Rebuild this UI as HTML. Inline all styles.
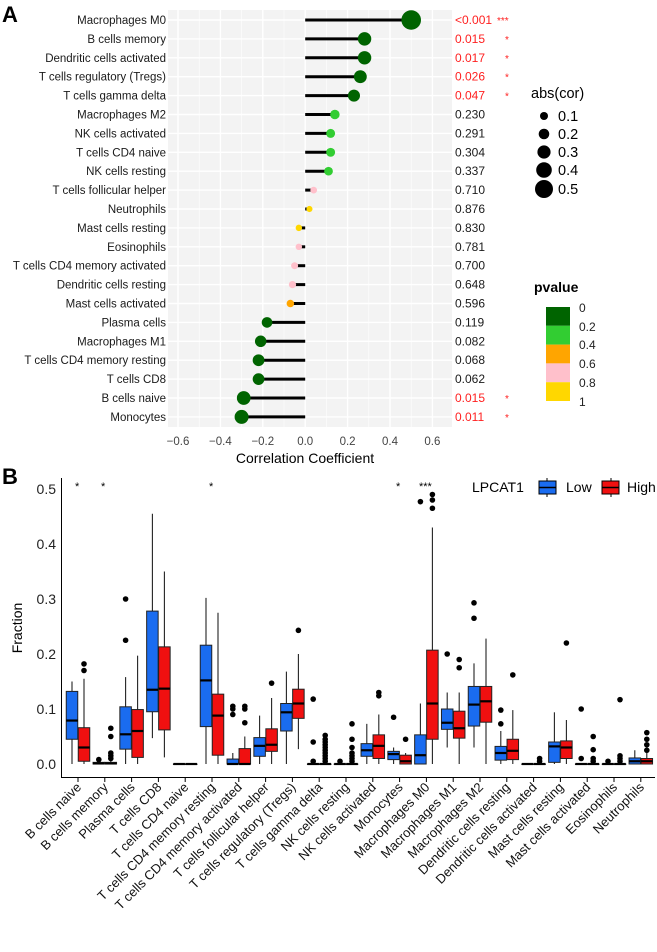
<!DOCTYPE html>
<html><head><meta charset="utf-8"><style>
body{margin:0;background:#fff;}
svg{display:block;font-family:"Liberation Sans",Arial,sans-serif;}
</style></head><body>
<svg id="s" width="657" height="952" viewBox="0 0 657 952" xmlns="http://www.w3.org/2000/svg">
<rect width="657" height="952" fill="#fff"/>
<text x="2" y="22" font-size="22" font-weight="bold">A</text>
<rect x="168" y="10" width="284" height="417" fill="#ebebeb" opacity="0.6"/>
<g id="gridA"></g>
<g id="lolli"></g>
<g font-size="11.5" text-anchor="end" fill="#1a1a1a">
<text x="166" y="24">Macrophages M0</text>
<text x="166" y="42.9">B cells memory</text>
<text x="166" y="61.8">Dendritic cells activated</text>
<text x="166" y="80.7">T cells regulatory (Tregs)</text>
<text x="166" y="99.6">T cells gamma delta</text>
<text x="166" y="118.5">Macrophages M2</text>
<text x="166" y="137.4">NK cells activated</text>
<text x="166" y="156.3">T cells CD4 naive</text>
<text x="166" y="175.2">NK cells resting</text>
<text x="166" y="194.1">T cells follicular helper</text>
<text x="166" y="213">Neutrophils</text>
<text x="166" y="231.9">Mast cells resting</text>
<text x="166" y="250.8">Eosinophils</text>
<text x="166" y="269.7">T cells CD4 memory activated</text>
<text x="166" y="288.6">Dendritic cells resting</text>
<text x="166" y="307.5">Mast cells activated</text>
<text x="166" y="326.4">Plasma cells</text>
<text x="166" y="345.3">Macrophages M1</text>
<text x="166" y="364.2">T cells CD4 memory resting</text>
<text x="166" y="383.1">T cells CD8</text>
<text x="166" y="402">B cells naive</text>
<text x="166" y="420.9">Monocytes</text>
</g>
<g font-size="12" fill="#1a1a1a">
<text x="455" y="24" fill="#ff2020">&lt;0.001</text><text x="497" y="24" fill="#ff2020" font-size="10">***</text>
<text x="455" y="42.9" fill="#ff2020">0.015</text><text x="505" y="42.9" fill="#ff2020" font-size="10">*</text>
<text x="455" y="61.8" fill="#ff2020">0.017</text><text x="505" y="61.8" fill="#ff2020" font-size="10">*</text>
<text x="455" y="80.7" fill="#ff2020">0.026</text><text x="505" y="80.7" fill="#ff2020" font-size="10">*</text>
<text x="455" y="99.6" fill="#ff2020">0.047</text><text x="505" y="99.6" fill="#ff2020" font-size="10">*</text>
<text x="455" y="118.5">0.230</text>
<text x="455" y="137.4">0.291</text>
<text x="455" y="156.3">0.304</text>
<text x="455" y="175.2">0.337</text>
<text x="455" y="194.1">0.710</text>
<text x="455" y="213">0.876</text>
<text x="455" y="231.9">0.830</text>
<text x="455" y="250.8">0.781</text>
<text x="455" y="269.7">0.700</text>
<text x="455" y="288.6">0.648</text>
<text x="455" y="307.5">0.596</text>
<text x="455" y="326.4">0.119</text>
<text x="455" y="345.3">0.082</text>
<text x="455" y="364.2">0.068</text>
<text x="455" y="383.1">0.062</text>
<text x="455" y="402" fill="#ff2020">0.015</text><text x="505" y="402" fill="#ff2020" font-size="10">*</text>
<text x="455" y="420.9" fill="#ff2020">0.011</text><text x="505" y="420.9" fill="#ff2020" font-size="10">*</text>
</g>
<g font-size="11.5" fill="#444" text-anchor="middle">
<text x="178" y="445">−0.6</text><text x="220.4" y="445">−0.4</text><text x="262.8" y="445">−0.2</text>
<text x="305.2" y="445">0.0</text><text x="347.6" y="445">0.2</text><text x="390" y="445">0.4</text><text x="432.4" y="445">0.6</text>
</g>
<text x="305" y="463" font-size="14" text-anchor="middle">Correlation Coefficient</text>
<text x="531" y="98" font-size="14.5">abs(cor)</text>
<g fill="#000"><circle cx="544" cy="116" r="4"/><circle cx="544" cy="134" r="5.3"/><circle cx="544" cy="152" r="6.6"/><circle cx="544" cy="170" r="7.8"/><circle cx="544" cy="189" r="9"/></g>
<g font-size="14.5"><text x="558" y="121">0.1</text><text x="558" y="139">0.2</text><text x="558" y="157">0.3</text><text x="558" y="175">0.4</text><text x="558" y="194">0.5</text></g>
<text x="534" y="292" font-size="14" font-weight="bold">pvalue</text>
<rect x="546" y="307" width="24" height="18.8" fill="#006400"/>
<rect x="546" y="325.8" width="24" height="18.8" fill="#32cd32"/>
<rect x="546" y="344.6" width="24" height="18.8" fill="#ffa500"/>
<rect x="546" y="363.4" width="24" height="18.8" fill="#ffc0cb"/>
<rect x="546" y="382.2" width="24" height="18.8" fill="#ffd700"/>
<g font-size="12" fill="#222"><text x="579" y="312">0</text><text x="579" y="331">0.2</text><text x="579" y="349">0.4</text><text x="579" y="368">0.6</text><text x="579" y="387">0.8</text><text x="579" y="406">1</text></g>

<text x="2" y="484" font-size="22" font-weight="bold">B</text>
<g font-size="14" fill="#222" text-anchor="end">
<text x="56" y="494">0.5</text><text x="56" y="549">0.4</text><text x="56" y="604">0.3</text><text x="56" y="659">0.2</text><text x="56" y="714">0.1</text><text x="56" y="769">0.0</text>
</g>
<text transform="translate(22,628) rotate(-90)" font-size="14" text-anchor="middle">Fraction</text>
<line x1="61.5" y1="478" x2="61.5" y2="777" stroke="#000" stroke-width="1"/>
<line x1="61" y1="777.5" x2="655" y2="777.5" stroke="#000" stroke-width="1"/>
<g id="ticksB"></g>
<g id="boxes"></g>
<g font-size="11" fill="#000"><text x="75" y="490">*</text><text x="101" y="490">*</text><text x="209" y="490">*</text><text x="396" y="490">*</text><text x="419" y="490">***</text></g>
<text x="472" y="492" font-size="14">LPCAT1</text>
<line x1="547" y1="478" x2="547" y2="497" stroke="#000"/><rect x="539" y="481" width="17" height="13" fill="#1a6cf0" stroke="#000"/><line x1="539" y1="487.5" x2="556" y2="487.5" stroke="#000" stroke-width="1.5"/>
<text x="566" y="492" font-size="14">Low</text>
<line x1="611" y1="478" x2="611" y2="497" stroke="#000"/><rect x="602" y="481" width="17" height="13" fill="#f01010" stroke="#000"/><line x1="602" y1="487.5" x2="619" y2="487.5" stroke="#000" stroke-width="1.5"/>
<text x="627" y="492" font-size="14">High</text>
<g font-size="13" fill="#111" text-anchor="end">
<text transform="translate(82,788) rotate(-45)">B cells naive</text>
<text transform="translate(108.8,788) rotate(-45)">B cells memory</text>
<text transform="translate(135.6,788) rotate(-45)">Plasma cells</text>
<text transform="translate(162.4,788) rotate(-45)">T cells CD8</text>
<text transform="translate(189.2,788) rotate(-45)">T cells CD4 naive</text>
<text transform="translate(216,788) rotate(-45)">T cells CD4 memory resting</text>
<text transform="translate(242.8,788) rotate(-45)">T cells CD4 memory activated</text>
<text transform="translate(269.6,788) rotate(-45)">T cells follicular helper</text>
<text transform="translate(296.4,788) rotate(-45)">T cells regulatory (Tregs)</text>
<text transform="translate(323.2,788) rotate(-45)">T cells gamma delta</text>
<text transform="translate(350,788) rotate(-45)">NK cells resting</text>
<text transform="translate(376.8,788) rotate(-45)">NK cells activated</text>
<text transform="translate(403.6,788) rotate(-45)">Monocytes</text>
<text transform="translate(430.4,788) rotate(-45)">Macrophages M0</text>
<text transform="translate(457.2,788) rotate(-45)">Macrophages M1</text>
<text transform="translate(484,788) rotate(-45)">Macrophages M2</text>
<text transform="translate(510.8,788) rotate(-45)">Dendritic cells resting</text>
<text transform="translate(537.6,788) rotate(-45)">Dendritic cells activated</text>
<text transform="translate(564.4,788) rotate(-45)">Mast cells resting</text>
<text transform="translate(591.2,788) rotate(-45)">Mast cells activated</text>
<text transform="translate(618,788) rotate(-45)">Eosinophils</text>
<text transform="translate(644.8,788) rotate(-45)">Neutrophils</text>
</g>
</svg>
<script>
var NS="http://www.w3.org/2000/svg";
function el(p,t,a){var e=document.createElementNS(NS,t);for(var k in a)e.setAttribute(k,a[k]);document.getElementById(p).appendChild(e);return e;}
var Z=305.2,U=212,S=18.9,R0=20;
for(var n=-6;n<=6;n++){var x=Z+n*0.1*U;var major=Math.abs(n)%2==0;el("gridA","line",{x1:x,x2:x,y1:10,y2:427,stroke:"#fff","stroke-width":major?1.4:0.6});}
for(var i=0;i<22;i++){var y=R0+i*S;el("gridA","line",{x1:168,x2:452,y1:y,y2:y,stroke:"#fff","stroke-width":1.4});}
var cor=[0.5,0.28,0.28,0.26,0.23,0.14,0.12,0.12,0.11,0.04,0.02,-0.03,-0.03,-0.05,-0.06,-0.07,-0.18,-0.21,-0.22,-0.22,-0.29,-0.30];
var col=["#006400","#006400","#006400","#006400","#006400","#32cd32","#32cd32","#32cd32","#32cd32","#ffc0cb","#ffd700","#ffd700","#ffc0cb","#ffc0cb","#ffc0cb","#ffa500","#006400","#006400","#006400","#006400","#006400","#006400"];
for(var i=0;i<22;i++){var y=R0+i*S,x=Z+cor[i]*U;
el("lolli","line",{x1:Z,x2:x,y1:y,y2:y,stroke:"#000","stroke-width":3});
el("lolli","circle",{cx:x,cy:y,r:2.8+14*Math.abs(cor[i]),fill:col[i]});}
function Y(v){return 764-v*550;}
var D=[
[[0.045,0.079,0.132,0,0.15,[]],[0.005,0.03,0.066,0,0.155,[0.17,0.182]]],
[[0,0.001,0.003,0,0.006,[0.008]],[0,0.001,0.003,0,0.006,[0.01,0.015,0.02,0.05,0.065]]],
[[0.027,0.054,0.104,0,0.158,[0.225,0.3]],[0.012,0.06,0.099,0,0.197,[]]],
[[0.095,0.135,0.278,0.047,0.455,[]],[0.062,0.137,0.213,0.012,0.35,[]]],
[[0,0,0,0,0,[]],[0,0,0,0,0,[]]],
[[0.068,0.152,0.216,0,0.302,[]],[0.016,0.088,0.127,0,0.275,[]]],
[[0,0,0.009,0,0.02,[0.09,0.1,0.105]],[0,0,0.028,0,0.05,[0.075,0.1,0.105]]],
[[0.014,0.033,0.048,0,0.088,[]],[0.023,0.035,0.064,0,0.12,[0.147]]],
[[0.06,0.094,0.11,0,0.168,[]],[0.083,0.11,0.136,0.027,0.2,[0.243]]],
[[0,0,0,0,0,[0.005,0.04,0.118]],[0,0,0,0,0,[0.005,0.01,0.015,0.02,0.025,0.03,0.035,0.04,0.045,0.052]]],
[[0,0,0,0,0,[0.005]],[0,0,0,0,0,[0.005,0.01,0.015,0.02,0.03,0.045,0.073]]],
[[0.014,0.025,0.037,0,0.073,[]],[0.01,0.033,0.053,0,0.09,[0.124,0.13]]],
[[0.008,0.018,0.023,0,0.03,[0.085]],[0,0.005,0.016,0,0.02,[0.045]]],
[[0,0.016,0.053,0,0.11,[0.477]],[0.045,0.11,0.207,0,0.43,[0.465,0.48,0.49]]],
[[0.063,0.075,0.1,0.03,0.13,[0.2]],[0.047,0.065,0.096,0,0.13,[0.175,0.19]]],
[[0.069,0.108,0.141,0.03,0.183,[0.265,0.293]],[0.076,0.114,0.141,0,0.228,[]]],
[[0.007,0.02,0.032,0,0.06,[0.073,0.098]],[0.008,0.024,0.045,0,0.098,[0.162]]],
[[0,0,0,0,0,[]],[0,0,0,0,0,[0.005,0.01]]],
[[0.003,0.032,0.04,0,0.094,[]],[0.01,0.03,0.042,0,0.08,[0.22]]],
[[0,0,0,0,0,[0.01,0.1]],[0,0,0,0,0,[0.005,0.01,0.026,0.05]]],
[[0,0,0,0,0,[0.005]],[0,0,0,0,0,[0.005,0.01,0.015,0.117]]],
[[0,0.005,0.011,0,0.025,[]],[0,0.005,0.01,0,0.02,[0.025,0.035,0.045,0.057]]]];
for(var g=0;g<22;g++){var c=78+g*26.8;
el("ticksB","line",{x1:c,x2:c,y1:777,y2:782,stroke:"#000"});
for(var k=0;k<2;k++){var b=D[g][k],cx=c+(k?6:-6),w=11.5,f=k?"#f01010":"#1a6cf0";
el("boxes","line",{x1:cx,x2:cx,y1:Y(b[3]),y2:Y(b[4]),stroke:"#222","stroke-width":1.1});
el("boxes","rect",{x:cx-w/2,y:Y(b[2]),width:w,height:Math.max(Y(b[0])-Y(b[2]),0.5),fill:f,stroke:"#222","stroke-width":1});
el("boxes","line",{x1:cx-w/2,x2:cx+w/2,y1:Y(b[1]),y2:Y(b[1]),stroke:"#000","stroke-width":2.2});
b[5].forEach(function(o){el("boxes","circle",{cx:cx,cy:Y(o),r:2.8,fill:"#000"});});}}
</script>
</body></html>
